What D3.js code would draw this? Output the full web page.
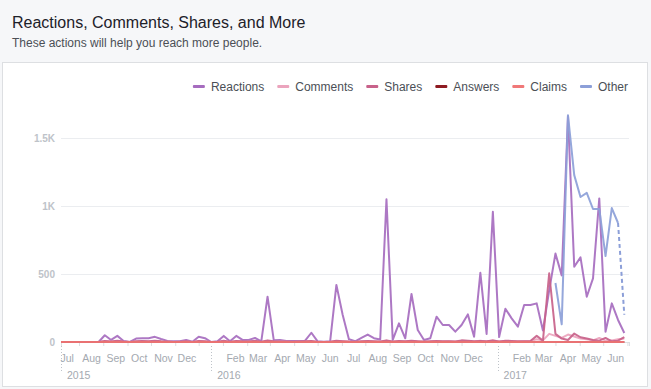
<!DOCTYPE html>
<html>
<head>
<meta charset="utf-8">
<script src="https://cdn.jsdelivr.net/npm/d3@7"></script>
<style>
  html, body { margin: 0; padding: 0; background: #f6f7f9; }
  svg { display: block; font-family: "Liberation Sans", Arial, Helvetica, sans-serif; }
</style>
</head>
<body>
<div id="chart"></div>
<script>
// one point every 8 days, from 23 Jun 2015 to 12 Jun 2017
const startDate = new Date(2015, 5, 23);
const stepDays = 8;

const reactions = [
  0, 0, 0, 0, 0, 0, 0, 50, 15, 45,
  8, 0, 25, 28, 28, 38, 22, 8, 5, 5,
  15, 2, 38, 28, 0, 5, 45, 5, 45, 15,
  15, 30, 5, 333, 12, 15, 8, 8, 8, 10,
  68, 5, 2, 5, 420, 200, 20, 5, 30, 55,
  28, 18, 1050, 15, 137, 27, 353, 88, 15, 27,
  186, 125, 125, 76, 125, 203, 39, 509, 59, 958,
  36, 245, 174, 113, 272, 272, 284, 85, 380, 650,
  490, 1660, 553, 622, 333, 468, 1056, 76, 284, 162,
  66
];
const comments = [
  0, 0, 0, 0, 0, 0, 0, 5, 3, 8,
  2, 0, 3, 5, 4, 6, 3, 2, 0, 0,
  3, 0, 5, 3, 0, 0, 4, 0, 5, 2,
  3, 4, 0, 8, 2, 3, 2, 0, 2, 3,
  6, 0, 0, 2, 8, 5, 2, 0, 3, 5,
  3, 2, 10, 2, 6, 3, 8, 4, 2, 3,
  6, 4, 5, 3, 5, 8, 3, 10, 4, 12,
  3, 8, 5, 4, 6, 8, 20, 12, 60, 45,
  30, 55, 40, 25, 20, 12, 30, 10, 12, 20,
  25
];
const shares = [
  0, 0, 0, 0, 0, 0, 0, 8, 4, 10,
  3, 0, 5, 8, 6, 10, 5, 3, 0, 2,
  5, 0, 8, 6, 0, 2, 10, 2, 8, 5,
  4, 10, 2, 12, 5, 4, 3, 2, 3, 5,
  8, 2, 0, 2, 10, 6, 3, 2, 5, 8,
  6, 4, 12, 3, 8, 5, 10, 6, 3, 5,
  8, 6, 5, 4, 12, 10, 5, 8, 6, 12,
  4, 10, 8, 5, 6, 8, 45, 10, 505, 60,
  25, 15, 62, 35, 25, 15, 10, 30, 5, 10,
  35
];
const answers = [
  0, 0, 0, 0, 0, 0, 0, 0, 0, 0,
  0, 0, 0, 0, 0, 0, 0, 0, 0, 0,
  0, 0, 0, 0, 0, 0, 0, 0, 0, 0,
  0, 0, 0, 0, 0, 0, 0, 0, 0, 0,
  0, 0, 0, 0, 0, 0, 0, 0, 0, 0,
  0, 0, 0, 0, 0, 0, 0, 0, 0, 0,
  0, 0, 0, 0, 0, 0, 0, 0, 0, 0,
  0, 0, 0, 0, 0, 0, 0, 0, 0, 0,
  0, 0, 0, 0, 0, 0, 0, 0, 0, 0,
  0
];
const claims = [
  0, 0, 0, 0, 0, 0, 0, 0, 0, 0,
  0, 0, 0, 0, 0, 0, 0, 0, 0, 0,
  0, 0, 0, 0, 0, 0, 0, 0, 0, 0,
  0, 0, 0, 0, 0, 0, 0, 0, 0, 0,
  0, 0, 0, 0, 0, 0, 0, 0, 0, 0,
  0, 0, 0, 0, 0, 0, 0, 0, 0, 0,
  0, 0, 0, 0, 0, 0, 0, 0, 0, 0,
  0, 0, 0, 0, 0, 0, 0, 0, 0, 0,
  0, 0, 0, 0, 0, 0, 0, 0, 0, 0,
  0
];
// "Other" only starts in March 2017 (point 79 onwards)
const otherStart = 79;
const other = [434, 130, 1668, 1227, 1066, 1097, 978, 978, 632, 985, 875, 200];

const seriesNames = ['Reactions', 'Comments', 'Shares', 'Answers', 'Claims', 'Other'];
const seriesColors = ['#a66cbf', '#eba4bd', '#c8628a', '#8e1b22', '#f07878', '#8c9fd8'];
const yTicks = [0, 500, 1000, 1500];
const yTickLabels = ['0', '500', '1K', '1.5K'];

const width = 651, height = 389;
const plot = { left: 61, right: 629, top: 138, bottom: 342 };

const dates = reactions.map((d, i) => d3.timeDay.offset(startDate, i * stepDays));

const series = [
  { values: reactions, offset: 0 },
  { values: comments, offset: 0 },
  { values: shares, offset: 0 },
  { values: answers, offset: 0 },
  { values: claims, offset: 0 },
  { values: other, offset: otherStart }
].map((s, k) => ({
  name: seriesNames[k],
  color: seriesColors[k],
  points: s.values.map((v, i) => ({ date: dates[i + s.offset], value: v }))
}));

const svg = d3.select('#chart').append('svg')
  .attr('width', width)
  .attr('height', height);

/* header */
svg.append('rect').attr('x', 0).attr('y', 0).attr('width', width).attr('height', height).attr('fill', '#f6f7f9');
svg.append('text').attr('x', 12).attr('y', 28)
  .attr('font-size', 16).attr('fill', '#1d2129')
  .text('Reactions, Comments, Shares, and More');
svg.append('text').attr('x', 12).attr('y', 47)
  .attr('font-size', 12).attr('fill', '#4b4f56')
  .text('These actions will help you reach more people.');

/* card */
svg.append('rect')
  .attr('x', 2.5).attr('y', 62.5).attr('width', 645).attr('height', 324)
  .attr('fill', '#fff').attr('stroke', '#dddfe2');

/* scales */
const x = d3.scaleTime()
  .domain([new Date(2015, 5, 23), new Date(2017, 5, 18)])
  .range([plot.left, plot.right]);
const y = d3.scaleLinear()
  .domain([0, 1500])
  .range([plot.bottom, plot.top]);

/* y grid + labels */
const yAxis = d3.axisLeft(y)
  .tickValues(yTicks)
  .tickSize(-(plot.right - plot.left))
  .tickPadding(6)
  .tickFormat((d, i) => yTickLabels[i]);
const gy = svg.append('g')
  .attr('transform', `translate(${plot.left},0)`)
  .call(yAxis);
gy.select('.domain').remove();
gy.selectAll('.tick line').attr('stroke', '#ebedf0');
gy.selectAll('.tick text')
  .attr('fill', '#bec3c9')
  .attr('font-size', 10)
  .attr('font-weight', 'bold')
  .attr('font-family', '"Liberation Sans", Arial, sans-serif');

/* x axis: ticks mid-month, labels on month start */
const tickDates = d3.timeMonth.range(new Date(2015, 6, 1), new Date(2017, 6, 1))
  .map(d => new Date(d.getFullYear(), d.getMonth(), 16))
  .filter(d => d <= x.domain()[1]);
const xAxis = d3.axisBottom(x)
  .tickValues([x.domain()[0]].concat(tickDates, [x.domain()[1]]))
  .tickSize(4)
  .tickFormat('');
const gx = svg.append('g')
  .attr('transform', `translate(0,${plot.bottom})`)
  .call(xAxis);
gx.select('.domain').attr('stroke', '#dddfe2');
gx.selectAll('.tick line').attr('stroke', '#dddfe2');

const monthStarts = d3.timeMonth.range(new Date(2015, 6, 1), new Date(2017, 5, 2))
  .filter(d => d.getMonth() !== 0);
svg.append('g').selectAll('text')
  .data(monthStarts)
  .join('text')
  .attr('x', d => x(d))
  .attr('y', 362)
  .attr('text-anchor', 'middle')
  .attr('font-size', 10.5)
  .attr('fill', '#a4a9b0')
  .text(d3.timeFormat('%b'));

const yearStarts = [x.domain()[0], new Date(2016, 0, 1), new Date(2017, 0, 1)];
const years = svg.append('g');
years.selectAll('line')
  .data(yearStarts)
  .join('line')
  .attr('x1', d => Math.round(x(d)) + 0.5)
  .attr('x2', d => Math.round(x(d)) + 0.5)
  .attr('y1', 346)
  .attr('y2', 372)
  .attr('stroke', '#bec3c9')
  .attr('stroke-dasharray', '1,2');
years.selectAll('text')
  .data(yearStarts)
  .join('text')
  .attr('x', d => x(d) + 6)
  .attr('y', 379)
  .attr('font-size', 10.5)
  .attr('fill', '#a4a9b0')
  .text(d => d.getFullYear());

/* lines */
const line = d3.line()
  .x(d => x(d.date))
  .y(d => y(d.value))
  .curve(d3.curveLinear);

const lines = svg.append('g').attr('class', 'lines');
series.forEach(s => {
  const dashed = s.name === 'Other';
  const solidPts = dashed ? s.points.slice(0, -1) : s.points;
  lines.append('path')
    .attr('d', line(solidPts))
    .attr('fill', 'none')
    .attr('stroke', s.color)
    .attr('stroke-width', 2)
    .attr('stroke-linejoin', 'round')
    .attr('stroke-opacity', 0.92);
  if (dashed) {
    lines.append('path')
      .attr('d', line(s.points.slice(-2)))
      .attr('fill', 'none')
      .attr('stroke', s.color)
      .attr('stroke-width', 2)
      .attr('stroke-dasharray', '4,3');
  }
});

/* legend, right aligned */
const legend = svg.append('g');
let cursor = 628;
for (let k = seriesNames.length - 1; k >= 0; k--) {
  const t = legend.append('text')
    .attr('y', 90.5)
    .attr('font-size', 12)
    .attr('fill', '#4b4f56')
    .text(seriesNames[k]);
  const w = t.node().getComputedTextLength();
  t.attr('x', cursor - w);
  legend.append('rect')
    .attr('x', cursor - w - 18)
    .attr('y', 85)
    .attr('width', 12)
    .attr('height', 3)
    .attr('rx', 1)
    .attr('fill', seriesColors[k]);
  cursor = cursor - w - 18 - 13;
}
</script>
</body>
</html>
